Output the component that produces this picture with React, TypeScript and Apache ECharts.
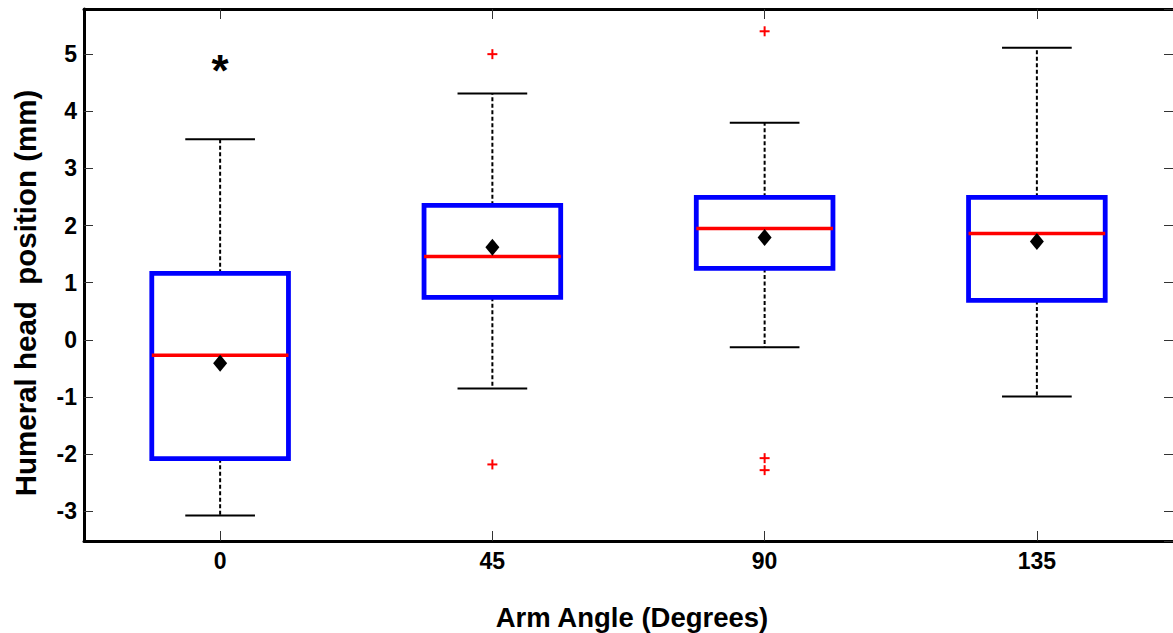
import React, { useEffect, useRef } from "react";
import * as echarts from "echarts";

const categories = ["0", "45", "90", "135"];
const whiskerLow = [-3.075, -0.85, -0.13, -0.99];
const quartile1 = [-2.08, 0.744, 1.25, 0.69];
const medians = [-0.27, 1.46, 1.95, 1.86];
const quartile3 = [1.164, 2.355, 2.495, 2.495];
const whiskerHigh = [3.51, 4.31, 3.8, 5.11];
const means = [-0.41, 1.62, 1.79, 1.72];
const outliers: [number, number][] = [
  [1, 5.0],
  [1, -2.18],
  [2, 5.4],
  [2, -2.07],
  [2, -2.28],
];
const extremes: [number, number][] = [[0, 4.825]];

const FONT = "Liberation Sans, Arial, Helvetica, sans-serif";

export default function App() {
  const ref = useRef<HTMLDivElement>(null);

  useEffect(() => {
    document.body.style.margin = "0";
    if (!ref.current) return;
    const chart = echarts.init(ref.current, null, { renderer: "svg" });

    const boxData = categories.map((_, i) => [
      i,
      whiskerLow[i],
      quartile1[i],
      medians[i],
      quartile3[i],
      whiskerHigh[i],
    ]);

    const axisCommonY = {
      type: "value" as const,
      min: -3.52,
      max: 5.79,
      splitNumber: 9,
      minInterval: 1,
      maxInterval: 1,
      splitLine: { show: false },
      axisLine: { show: true, onZero: false, lineStyle: { color: "#000", width: 3 } },
      axisTick: { show: true, inside: true, length: 9, lineStyle: { color: "#333", width: 1 } },
    };

    const axisCommonX = {
      type: "category" as const,
      data: categories,
      boundaryGap: true,
      splitLine: { show: false },
      axisLine: { show: true, onZero: false, lineStyle: { color: "#000", width: 3 } },
      axisTick: {
        show: true,
        inside: true,
        alignWithLabel: true,
        length: 10,
        lineStyle: { color: "#333", width: 1 },
      },
    };

    chart.setOption({
      animation: false,
      backgroundColor: "#fff",
      grid: { left: 84, top: 9, width: 1093, height: 532, containLabel: false },
      xAxis: [
        {
          ...axisCommonX,
          position: "bottom",
          axisLabel: {
            show: true,
            color: "#000",
            fontFamily: FONT,
            fontWeight: "bold",
            fontSize: 23,
            margin: 8,
          },
        },
        { ...axisCommonX, position: "top", axisLabel: { show: false } },
      ],
      yAxis: [
        {
          ...axisCommonY,
          position: "left",
          axisLabel: {
            show: true,
            color: "#000",
            fontFamily: FONT,
            fontWeight: "bold",
            fontSize: 23,
            margin: 7,
            showMinLabel: false,
            showMaxLabel: false,
          },
        },
        {
          ...axisCommonY,
          position: "right",
          axisLine: { show: false, onZero: false },
          axisLabel: { show: false },
        },
      ],
      graphic: [
        {
          type: "text",
          x: 632,
          y: 617,
          style: {
            text: "Arm Angle (Degrees)",
            font: `bold 27.5px ${FONT}`,
            fill: "#000",
            align: "center",
            verticalAlign: "middle",
          },
        },
        {
          type: "text",
          x: 25,
          y: 293,
          rotation: Math.PI / 2,
          style: {
            text: "Humeral head  position (mm)",
            font: `bold 29.5px ${FONT}`,
            fill: "#000",
            align: "center",
            verticalAlign: "middle",
          },
        },
      ],
      series: [
        {
          type: "custom",
          name: "box",
          data: boxData,
          encode: { x: 0, y: [1, 2, 3, 4, 5] },
          renderItem: (params: any, api: any) => {
            const i = api.value(0);
            const pLow = api.coord([i, api.value(1)]);
            const pQ1 = api.coord([i, api.value(2)]);
            const pMed = api.coord([i, api.value(3)]);
            const pQ3 = api.coord([i, api.value(4)]);
            const pHigh = api.coord([i, api.value(5)]);
            const band = api.size([1, 0])[0];
            const cx = pMed[0];
            const half = band * 0.251;
            const capHalf = band * 0.128;
            const dashStyle = { stroke: "#000", lineWidth: 2, lineDash: [4, 2.5] };
            const capStyle = { stroke: "#000", lineWidth: 2 };
            return {
              type: "group",
              children: [
                {
                  type: "line",
                  shape: { x1: cx, y1: pQ3[1], x2: cx, y2: pHigh[1] },
                  style: dashStyle,
                },
                {
                  type: "line",
                  shape: { x1: cx, y1: pQ1[1], x2: cx, y2: pLow[1] },
                  style: dashStyle,
                },
                {
                  type: "line",
                  shape: { x1: cx - capHalf, y1: pHigh[1], x2: cx + capHalf, y2: pHigh[1] },
                  style: capStyle,
                },
                {
                  type: "line",
                  shape: { x1: cx - capHalf, y1: pLow[1], x2: cx + capHalf, y2: pLow[1] },
                  style: capStyle,
                },
                {
                  type: "rect",
                  shape: { x: cx - half, y: pQ3[1], width: half * 2, height: pQ1[1] - pQ3[1] },
                  style: { fill: "transparent", stroke: "#0000ff", lineWidth: 4.8 },
                },
                {
                  type: "line",
                  shape: { x1: cx - half, y1: pMed[1], x2: cx + half, y2: pMed[1] },
                  style: { stroke: "#ff0000", lineWidth: 3.5 },
                },
              ],
            };
          },
          z: 2,
        },
        {
          type: "scatter",
          name: "mean",
          data: means.map((m, i) => [i, m]),
          symbol: "diamond",
          symbolSize: [14, 17],
          itemStyle: { color: "#000", opacity: 1 },
          z: 4,
        },
        {
          type: "custom",
          name: "outliers",
          data: outliers,
          encode: { x: 0, y: 1 },
          renderItem: (params: any, api: any) => {
            const p = api.coord([api.value(0), api.value(1)]);
            const s = 5;
            const st = { stroke: "#ff0000", lineWidth: 2 };
            return {
              type: "group",
              children: [
                { type: "line", shape: { x1: p[0] - s, y1: p[1], x2: p[0] + s, y2: p[1] }, style: st },
                { type: "line", shape: { x1: p[0], y1: p[1] - s, x2: p[0], y2: p[1] + s }, style: st },
              ],
            };
          },
          z: 5,
        },
        {
          type: "custom",
          name: "extreme",
          data: extremes,
          encode: { x: 0, y: 1 },
          renderItem: (params: any, api: any) => {
            const p = api.coord([api.value(0), api.value(1)]);
            return {
              type: "text",
              x: p[0],
              y: p[1] + 6,
              style: {
                text: "*",
                font: `bold 44px ${FONT}`,
                fill: "#000",
                align: "center",
                verticalAlign: "middle",
              },
            };
          },
          z: 5,
        },
      ],
    });

    return () => chart.dispose();
  }, []);

  return <div ref={ref} style={{ width: 1173, height: 633 }} />;
}
